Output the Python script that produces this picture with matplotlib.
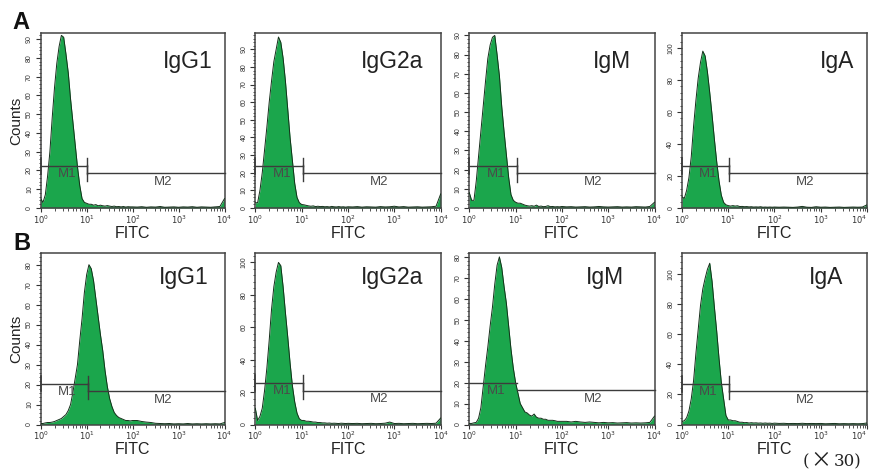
import matplotlib
matplotlib.use('Agg')
import matplotlib.pyplot as plt
from matplotlib.ticker import MultipleLocator, LogLocator, FixedLocator, NullFormatter

plt.rcParams['font.family'] = ['Liberation Sans', 'DejaVu Sans']

# ---------------- data ----------------
row_names = ['A', 'B']
isotypes = ['IgG1', 'IgG2a', 'IgM', 'IgA']

# FITC channel positions, in decades (10**d)
decades = [0.00, 0.05, 0.10, 0.15, 0.20, 0.25, 0.30, 0.35, 0.40, 0.45,
           0.50, 0.55, 0.60, 0.65, 0.70, 0.75, 0.80, 0.85, 0.90, 0.95,
           1.00, 1.05, 1.10, 1.15, 1.20, 1.25, 1.30, 1.35, 1.40, 1.45,
           1.50, 1.55, 1.60, 1.65, 1.70, 1.75, 1.80, 1.85, 1.90, 1.95,
           2.00, 2.10, 2.20, 2.30, 2.40, 2.50, 2.60, 2.70, 2.80, 2.90,
           3.00, 3.10, 3.20, 3.30, 3.40, 3.50, 3.60, 3.70, 3.80, 3.90, 4.00]

counts_A_IgG1 = [5, 3, 7, 17, 30, 48, 64, 77, 86, 92,
                 91, 82, 72, 58, 46, 34, 22, 12, 5, 3,
                 2.5, 2, 2, 1.5, 1.8, 1.2, 1.5, 1.2, 1, 1.3,
                 1, 0.8, 1, 0.7, 0.8, 0.6, 0.8, 0.5, 0.7, 0.6,
                 0.6, 0.5, 0.7, 0.4, 0.6, 0.5, 0.8, 0.4, 0.5, 0.6,
                 0.4, 0.6, 0.5, 0.7, 0.4, 0.6, 0.5, 0.4, 0.6, 0.8, 5]
counts_A_IgG2a = [3, 3, 10, 20, 33, 46, 60, 72, 83, 90,
                  97, 94, 85, 72, 56, 40, 27, 14, 6, 3,
                  2, 1.8, 1.5, 1.2, 1, 1.2, 0.8, 1, 0.8, 0.9,
                  0.7, 0.8, 0.6, 0.9, 0.7, 0.6, 0.8, 0.6, 0.7, 0.5,
                  0.7, 0.6, 0.8, 0.5, 0.7, 0.6, 0.5, 0.8, 0.6, 0.7,
                  1.0, 0.6, 0.8, 0.5, 0.6, 0.7, 0.5, 0.6, 0.7, 1.0, 8]
counts_A_IgM = [8, 4, 4, 14, 27, 40, 53, 66, 78, 85,
                89, 90, 80, 69, 53, 40, 28, 16, 7, 4,
                3, 2.5, 2.5, 2, 1.5, 1.2, 1, 1.2, 0.9, 1.5,
                0.8, 1, 0.7, 0.8, 1.2, 0.7, 0.8, 0.6, 0.7, 0.6,
                0.8, 0.6, 0.7, 0.5, 0.6, 0.7, 0.5, 0.6, 0.8, 0.6,
                0.5, 0.6, 0.7, 0.5, 0.6, 0.5, 0.7, 0.6, 0.5, 0.8, 3]
counts_A_IgA = [7, 6, 11, 19, 32, 51, 67, 81, 91, 98,
                95, 85, 72, 58, 43, 29, 17, 8, 3.5, 2,
                1.5, 1.2, 1.5, 1.2, 1.4, 0.9, 1, 0.8, 0.9, 0.7,
                0.8, 0.6, 0.7, 0.6, 0.8, 0.5, 0.6, 0.5, 0.6, 0.5,
                0.6, 0.5, 0.6, 0.5, 0.4, 0.6, 1.0, 0.5, 0.4, 0.8,
                0.5, 0.6, 0.4, 0.5, 0.6, 0.4, 0.5, 0.6, 0.5, 0.6, 2]
counts_B_IgG1 = [0.5, 0.5, 0.8, 1, 1, 1.2, 1.5, 2, 2.5, 3,
                 4, 5, 7, 10, 16, 23, 30, 42, 53, 66,
                 75, 80, 78, 72, 63, 54, 45, 37, 27, 19,
                 13, 9, 6, 4.5, 3.5, 3, 2.5, 2, 2, 1.8,
                 2, 2, 1.5, 1.2, 1, 0.6, 0.5, 0.4, 0.5, 0.3,
                 0.4, 0.3, 0.5, 0.3, 0.4, 0.3, 0.4, 0.3, 0.4, 0.3, 1]
counts_B_IgG2a = [10, 2.5, 5, 10, 21, 35, 52, 71, 85, 94,
                  100, 98, 85, 69, 54, 38, 24, 14, 7, 3.5,
                  2.5, 2.5, 2, 2, 1.8, 1.5, 1.5, 1.2, 1.2, 1,
                  1, 0.8, 0.9, 0.7, 0.8, 0.7, 0.6, 0.8, 0.7, 0.6,
                  0.7, 0.6, 0.7, 0.5, 0.6, 0.7, 0.5, 0.6, 0.8, 1.5,
                  0.6, 0.7, 0.5, 0.6, 0.7, 0.5, 0.6, 0.7, 0.6, 0.8, 4]
counts_B_IgM = [0.5, 0.5, 0.8, 1, 3, 8, 18, 28, 37, 47,
                56, 67, 76, 80, 75, 66, 58, 47, 36, 27,
                20, 15, 10, 8, 6, 5.5, 4.5, 4, 5, 3.5,
                3, 3, 2.5, 2.5, 2, 2, 2, 1.8, 1.5, 1.5,
                1.5, 1.5, 1.2, 1.5, 1.2, 1, 1.2, 1, 0.8, 1,
                0.8, 0.9, 0.7, 0.8, 0.9, 0.7, 0.8, 0.7, 0.8, 1, 4]
counts_B_IgA = [2, 2.5, 4.5, 9, 17, 29, 47, 63, 79, 90,
                97, 103, 107, 95, 78, 62, 44, 28, 17, 6,
                3, 3, 2.5, 2.5, 2, 1.5, 1.5, 1.2, 1.3, 1,
                1.2, 1, 1.1, 0.9, 1, 0.8, 1, 0.8, 0.9, 0.7,
                0.9, 0.7, 0.8, 0.6, 0.7, 0.6, 0.8, 0.6, 0.7, 0.6,
                0.7, 0.5, 0.6, 0.7, 0.5, 0.6, 0.5, 0.6, 0.5, 0.6, 1]

counts = {
    'A': [counts_A_IgG1, counts_A_IgG2a, counts_A_IgM, counts_A_IgA],
    'B': [counts_B_IgG1, counts_B_IgG2a, counts_B_IgM, counts_B_IgA],
}

# axis maxima (counts)
ymax = {'A': [93, 99, 91, 109], 'B': [86, 106, 82, 114]}
ystep = {'A': [10, 10, 10, 20], 'B': [10, 20, 10, 20]}

# gate markers: M1 height, M2 height, M1/M2 boundary (FITC)
m1_height = {'A': [22.3, 23.9, 21.9, 26.2], 'B': [20.5, 25.7, 19.9, 26.8]}
m2_height = {'A': [18.6, 19.7, 18.0, 21.6], 'B': [16.8, 20.9, 16.3, 21.9]}
gate_split = {'A': [10.0, 10.5, 10.7, 10.2], 'B': [10.7, 10.5, 10.7, 10.5]}
gate_ticks = {'A': [True, True, True, True], 'B': [True, True, False, True]}

xtick_values = [1, 10, 100, 1000, 10000]
xtick_labels = ['$10^{0}$', '$10^{1}$', '$10^{2}$', '$10^{3}$', '$10^{4}$']

# ---------------- layout ----------------
W, H = 870, 473
col_left = [40.7, 255.3, 469.3, 682.0]
col_right = [224.5, 440.7, 654.5, 867.0]
row_top = {'A': 33.5, 'B': 252.7}
row_bottom = {'A': 208.0, 'B': 424.5}
label_xfrac = {'A': [0.80, 0.736, 0.77, 0.84], 'B': [0.78, 0.736, 0.735, 0.78]}
fitc_baseline = {'A': 237.5, 'B': 454.0}

GREEN = '#1ba64c'
EDGE = '#14301a'
GREY = '#3c3c3c'

fig = plt.figure(figsize=(W / 100, H / 100), dpi=100)
fig.patch.set_facecolor('white')

fitc = [10 ** d for d in decades]

for r in row_names:
    for i, iso in enumerate(isotypes):
        l, rr = col_left[i], col_right[i]
        t, b = row_top[r], row_bottom[r]
        ax = fig.add_axes([l / W, 1 - b / H, (rr - l) / W, (b - t) / H])
        y = counts[r][i]
        ax.fill_between(fitc, 0, y, color=GREEN, linewidth=0, zorder=2)
        ax.plot(fitc, y, color=EDGE, linewidth=0.7, zorder=3)
        ax.set_xscale('log')
        ax.set_xlim(1, 10000)
        ax.set_ylim(0, ymax[r][i])

        # markers
        m1 = m1_height[r][i]
        m2 = m2_height[r][i]
        sp = gate_split[r][i]
        hh = 0.046 * ymax[r][i]
        ax.plot([1, sp], [m1, m1], color=GREY, lw=1.0, zorder=4, clip_on=False)
        ax.plot([sp, 10000], [m2, m2], color=GREY, lw=1.0, zorder=4, clip_on=False)
        if gate_ticks[r][i]:
            ax.plot([1, 1], [m1 - hh, m1 + hh], color=GREY, lw=1.2, zorder=4, clip_on=False)
            ax.plot([sp, sp], [m1 - hh, m1 + hh], color=GREY, lw=1.0, zorder=4)
            ax.plot([sp, sp], [m2 - hh, m2 + hh], color=GREY, lw=1.0, zorder=4)
        ax.annotate('M1', (10 ** 0.57, m1), xytext=(0, -1.5), textcoords='offset points',
                    ha='center', va='top', fontsize=9.5, color='#4a4a4a', zorder=5)
        ax.annotate('M2', (10 ** 2.67, m2), xytext=(0, -2.0), textcoords='offset points',
                    ha='center', va='top', fontsize=9.5, color='#4a4a4a', zorder=5)

        ax.text(label_xfrac[r][i], 0.80 if r == 'A' else 0.815, iso, transform=ax.transAxes,
                ha='center', va='baseline', fontsize=16.5, color='#222222')

        # ticks
        ax.xaxis.set_major_locator(FixedLocator(xtick_values))
        ax.set_xticklabels(xtick_labels)
        ax.xaxis.set_minor_locator(LogLocator(base=10, subs=[2, 3, 4, 5, 6, 7, 8, 9]))
        ax.xaxis.set_minor_formatter(NullFormatter())
        ax.yaxis.set_major_locator(MultipleLocator(ystep[r][i]))
        ax.yaxis.set_minor_locator(MultipleLocator(ystep[r][i] / 5))
        ax.tick_params(axis='x', which='major', length=3, width=0.8, pad=1,
                       labelsize=6, colors='#333333')
        ax.tick_params(axis='x', which='minor', length=1.8, width=0.6, colors='#333333')
        ax.tick_params(axis='y', which='major', length=3.5, width=0.8, pad=2,
                       labelsize=5, labelrotation=90, colors='#333333')
        ax.tick_params(axis='y', which='minor', length=1.8, width=0.6, colors='#333333')
        for lab in ax.get_yticklabels():
            lab.set_va('center')
        if i == len(isotypes) - 1:
            # keep the last decade label inside the figure edge
            ax.get_xticklabels()[-1].set_ha('right')
        for s in ax.spines.values():
            s.set_color('#444444')
            s.set_linewidth(1.1)

        fig.text((l + rr) / 2 / W, 1 - fitc_baseline[r] / H, 'FITC', ha='center',
                 va='baseline', fontsize=11.5, color='#222222')
        if i == 0:
            fig.text(16 / W, 1 - (t + b) / 2 / H, 'Counts', rotation=90, ha='center',
                     va='center', fontsize=11, color='#222222')

fig.text(12 / W, 1 - 29.3 / H, 'A', fontsize=17, fontweight='bold', va='baseline',
         ha='left', color='#111111')
fig.text(13.5 / W, 1 - 250 / H, 'B', fontsize=17, fontweight='bold', va='baseline',
         ha='left', color='#111111')

# magnification note "(×30)"
serif = ['DejaVu Serif', 'Liberation Serif']
fig.text(803 / W, 1 - 466 / H, '(', fontsize=12, va='baseline', ha='left',
         family=serif, color='#222222')
fig.text(821 / W, 1 - 466 / H, '\u00d7', fontsize=15, va='baseline', ha='center',
         family=['Noto Sans CJK JP', 'DejaVu Sans'], color='#222222')
fig.text(862 / W, 1 - 466 / H, '30)', fontsize=12, va='baseline', ha='right',
         family=serif, color='#222222')

fig.savefig('out.png', dpi=100, facecolor='white')
